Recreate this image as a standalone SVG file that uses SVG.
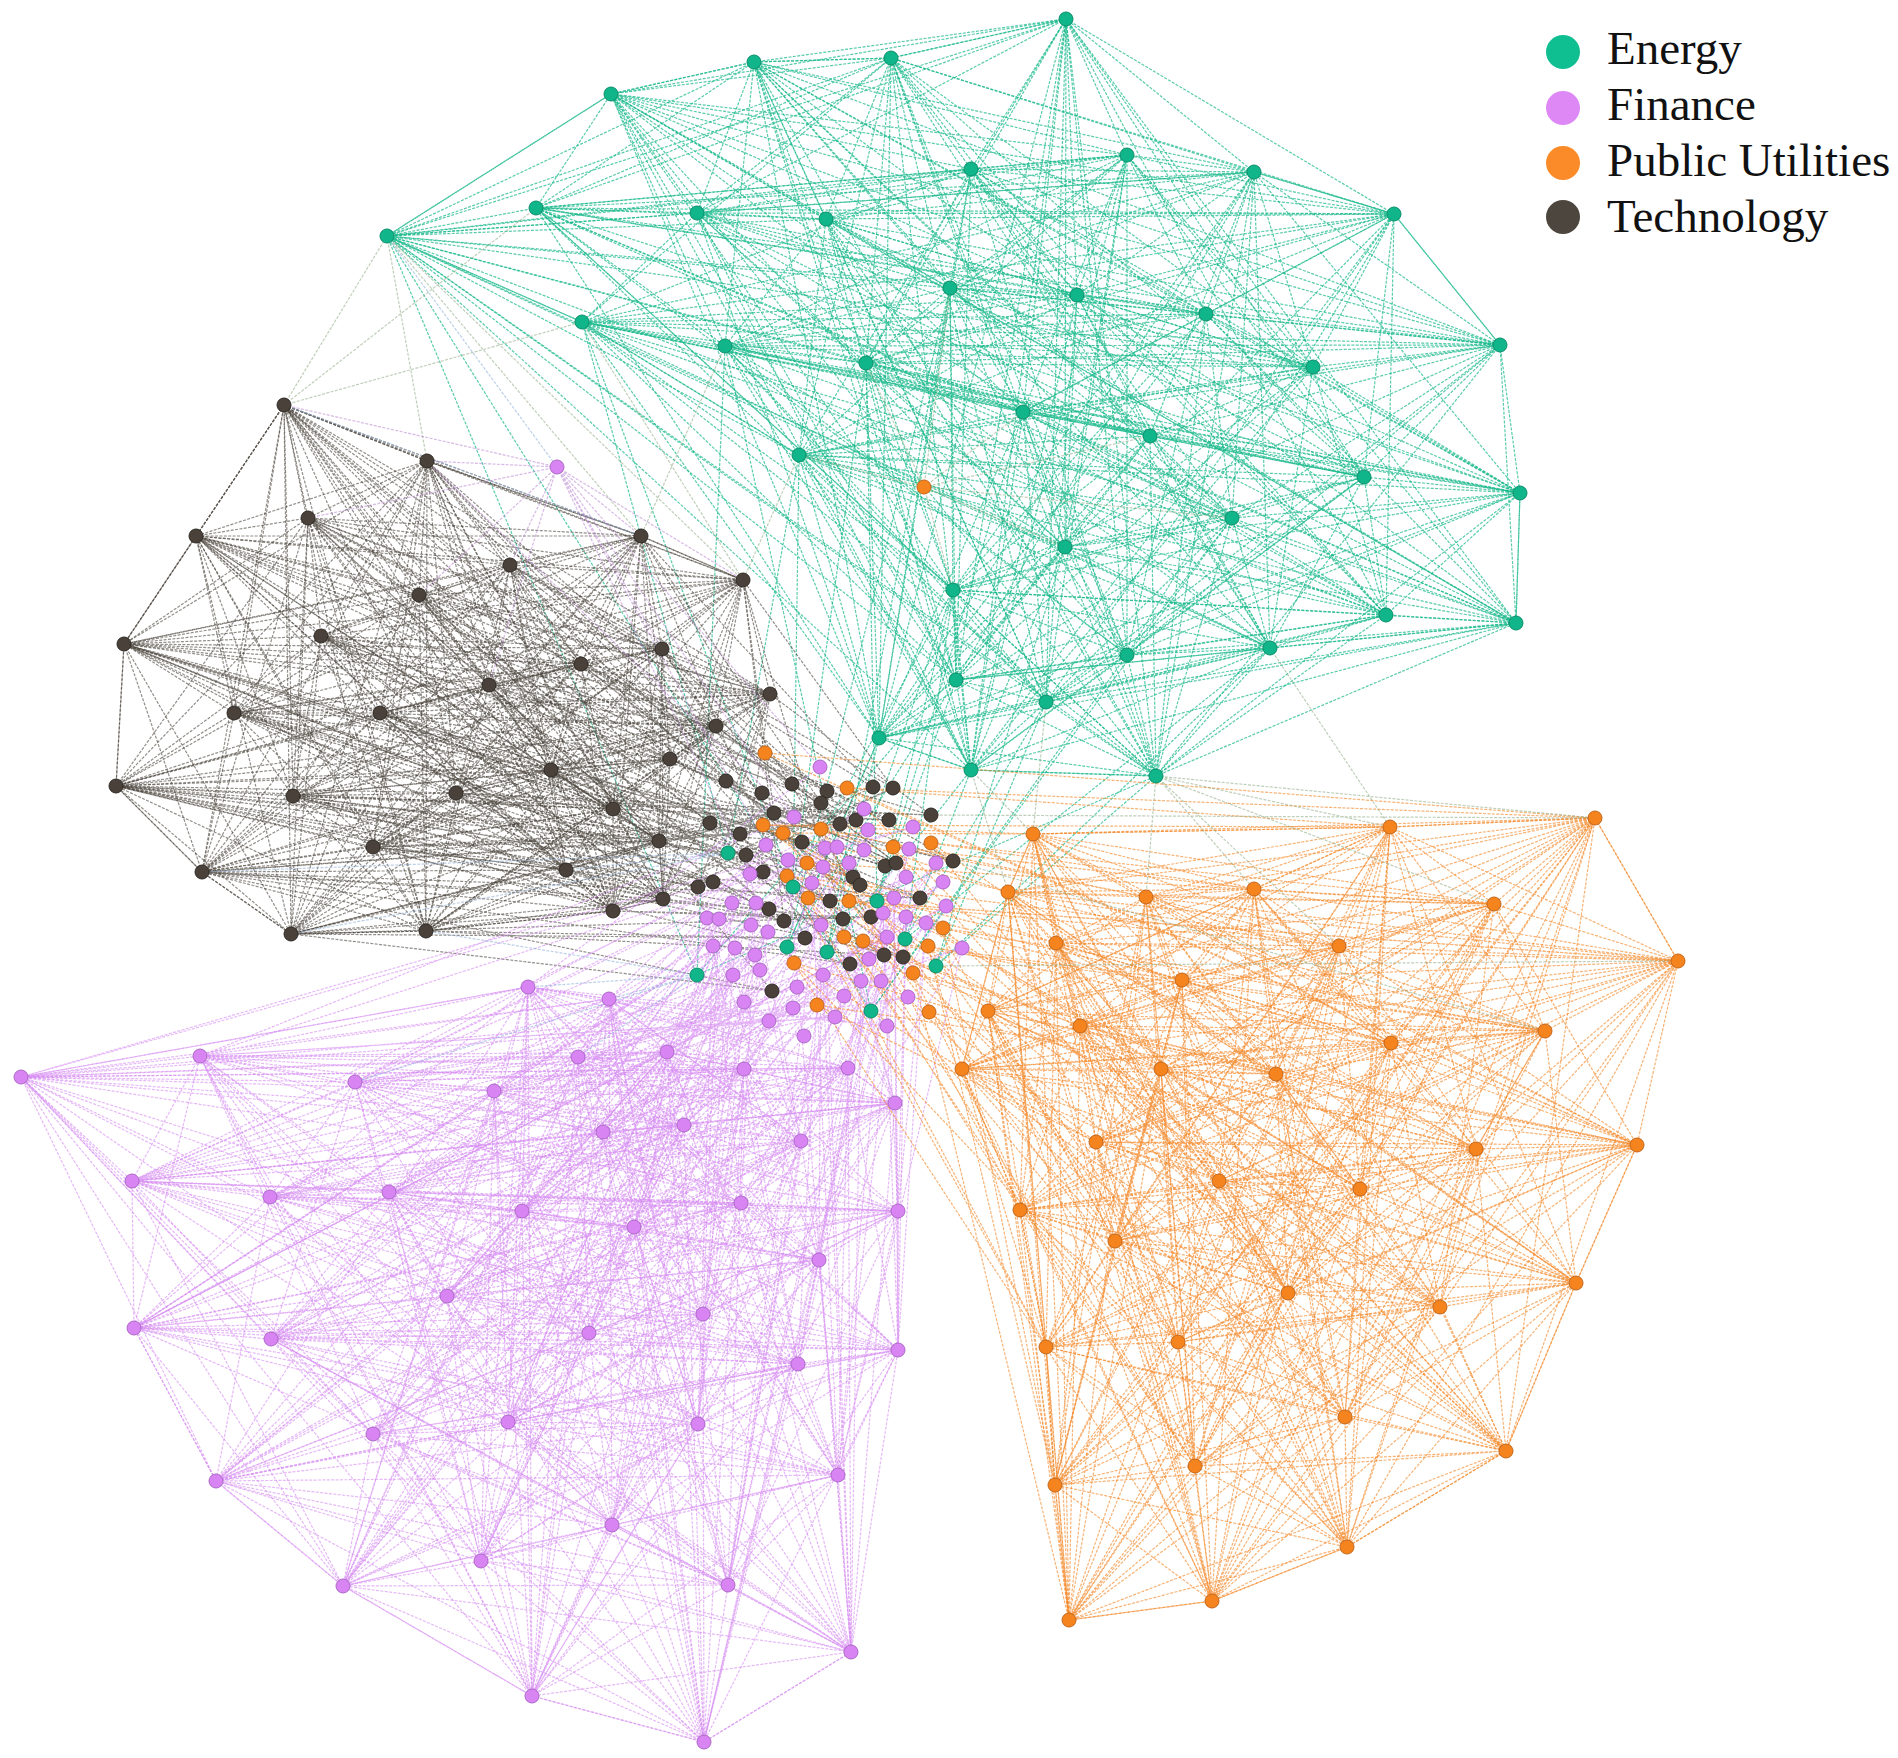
<svg xmlns="http://www.w3.org/2000/svg" width="1898" height="1758" viewBox="0 0 1898 1758">
<style>
.c{fill:none;stroke-width:1.2;stroke-dasharray:3 1.4}
.ce{stroke:#17b88a;stroke-opacity:.72}
.cf{stroke:#d68cf2;stroke-opacity:.62}
.cu{stroke:#f58a2c;stroke-opacity:.66}
.ct{stroke:#4a433b;stroke-opacity:.6}
.cx{stroke:#8aa880;stroke-opacity:.55}
.cb{stroke:#8fb0d8;stroke-opacity:.6}
.cp{stroke:#b77fd0;stroke-opacity:.55}
.ne circle{fill:#10b58a;stroke:#0b8f6c;stroke-width:1}
.nf circle{fill:#d884f3;stroke:#ad68c8;stroke-width:1}
.nu circle{fill:#f5841f;stroke:#c4661a;stroke-width:1}
.nt circle{fill:#4a423a;stroke:#2e2924;stroke-width:1}
.lg text{font-family:"Liberation Serif","Times New Roman",serif;font-size:47px;fill:#111}
</style>
<rect width="1898" height="1758" fill="#fff"/>
<g id="connectors">
<g id="edges-energy" class="c ce">
<path d="M1066,19 L754,62 891,58 611,94 387,236 536,208 697,213 826,219 971,169 1127,155 1254,172 1394,214 950,288 1077,295 1206,314 1313,367 1500,345 866,363 725,346 582,322 1023,412 1150,436 1364,477 1520,493 799,455 1232,518 1065,547 953,590 1386,615 1516,623 1270,648 1127,655 956,680 1046,702 879,738 971,770 1156,776Z"/>
<path d="M1066,19 L891,58 387,236 697,213 971,169 1254,172 950,288 1206,314 1500,345 725,346 1023,412 1364,477 799,455 1065,547 1386,615 1270,648 956,680 879,738 1156,776 754,62 611,94 536,208 826,219 1127,155 1394,214 1077,295 1313,367 866,363 582,322 1150,436 1520,493 1232,518 953,590 1516,623 1127,655 1046,702 971,770Z"/>
<path d="M1066,19 L611,94 697,213 1127,155 950,288 1313,367 725,346 1150,436 799,455 953,590 1270,648 1046,702 1156,776 891,58 536,208 971,169 1394,214 1206,314 866,363 1023,412 1520,493 1065,547 1516,623 956,680 971,770 754,62 387,236 826,219 1254,172 1077,295 1500,345 582,322 1364,477 1232,518 1386,615 1127,655 879,738Z"/>
<path d="M1066,19 L387,236 971,169 950,288 1500,345 1023,412 799,455 1386,615 956,680 1156,776 611,94 826,219 1394,214 1313,367 582,322 1520,493 953,590 1127,655 971,770 891,58 697,213 1254,172 1206,314 725,346 1364,477 1065,547 1270,648 879,738 754,62 536,208 1127,155 1077,295 866,363 1150,436 1232,518 1516,623 1046,702Z"/>
<path d="M1066,19 L536,208 1254,172 1313,367 1023,412 1232,518 1270,648 971,770 611,94 971,169 1077,295 725,346 1520,493 1386,615 1046,702 754,62 697,213 1394,214 1500,345 1150,436 1065,547 1127,655 1156,776 387,236 1127,155 1206,314 582,322 799,455 1516,623 879,738 891,58 826,219 950,288 866,363 1364,477 953,590 956,680Z"/>
<path d="M1066,19 L697,213 950,288 725,346 799,455 1270,648 1156,776 536,208 1394,214 866,363 1520,493 1516,623 971,770 387,236 1254,172 1500,345 1364,477 1386,615 879,738 611,94 1127,155 1313,367 1150,436 953,590 1046,702 891,58 971,169 1206,314 1023,412 1065,547 956,680 754,62 826,219 1077,295 582,322 1232,518 1127,655Z"/>
<path d="M1066,19 L971,169 1500,345 799,455 956,680 611,94 1394,214 582,322 953,590 971,770 697,213 1206,314 1364,477 1270,648 754,62 1127,155 866,363 1232,518 1046,702 387,236 950,288 1023,412 1386,615 1156,776 826,219 1313,367 1520,493 1127,655 891,58 1254,172 725,346 1065,547 879,738 536,208 1077,295 1150,436 1516,623Z"/>
<path d="M1066,19 L1127,155 725,346 953,590 1156,776 971,169 866,363 1065,547 971,770 826,219 1500,345 1232,518 879,738 697,213 1313,367 799,455 1046,702 536,208 1206,314 1520,493 956,680 387,236 1077,295 1364,477 1127,655 611,94 950,288 1150,436 1270,648 891,58 1394,214 1023,412 1516,623 754,62 1254,172 582,322 1386,615Z"/>
<path d="M1066,19 L1394,214 1364,477 1046,702 826,219 725,346 1516,623 611,94 1206,314 1232,518 1156,776 1254,172 1150,436 956,680 697,213 866,363 1386,615 891,58 1077,295 799,455 971,770 1127,155 1023,412 1127,655 536,208 1500,345 953,590 754,62 950,288 1520,493 879,738 971,169 582,322 1270,648 387,236 1313,367 1065,547Z"/>
<path d="M1066,19 L1077,295 1065,547 891,58 1313,367 1386,615 387,236 866,363 1270,648 697,213 582,322 956,680 971,169 1150,436 879,738 1254,172 1520,493 1156,776 950,288 1232,518 754,62 1206,314 953,590 611,94 1500,345 1516,623 536,208 725,346 1127,655 826,219 1023,412 1046,702 1127,155 1364,477 971,770 1394,214 799,455Z"/>
<path d="M1066,19 L1313,367 1270,648 971,169 1520,493 754,62 1500,345 1127,655 1127,155 799,455 891,58 866,363 956,680 1254,172 1232,518 611,94 725,346 1046,702 1394,214 1065,547 387,236 582,322 879,738 950,288 953,590 536,208 1023,412 971,770 1077,295 1386,615 697,213 1150,436 1156,776 1206,314 1516,623 826,219 1364,477Z"/>
<path d="M1066,19 L866,363 879,738 1206,314 1127,655 1394,214 1386,615 971,169 1232,518 536,208 1364,477 891,58 582,322 1156,776 1500,345 1046,702 1077,295 1270,648 1254,172 953,590 826,219 799,455 387,236 1150,436 754,62 725,346 971,770 1313,367 956,680 950,288 1516,623 1127,155 1065,547 697,213 1520,493 611,94 1023,412Z"/>
<path d="M387,236 L611,94 754,62 891,58 1066,19 1254,172 1394,214 1500,345 1520,493 1516,623 1156,776 971,770 879,738 799,455 582,322Z"/>
<path d="M728,853 L799,455 793,887 953,590 877,901 956,680 787,947 879,738 827,952 971,770 905,939 1046,702 936,966 1065,547 697,975 725,346 871,1011 1127,655"/>
<path d="M728,853 L582,322 793,887 866,363 877,901 1023,412 787,947 950,288 827,952 953,590 905,939 1270,648 936,966 1156,776 697,975 387,236 871,1011 1232,518"/>
</g>
<g id="edges-technology" class="c ct">
<path d="M284,405 L427,461 308,518 196,536 641,536 510,565 743,580 419,595 124,644 321,636 662,649 581,664 489,685 770,694 234,713 380,713 716,726 670,759 551,770 116,786 293,796 456,793 613,809 659,841 373,847 202,872 566,870 663,899 613,911 291,934 426,931Z"/>
<path d="M284,405 L308,518 641,536 743,580 124,644 662,649 489,685 234,713 716,726 551,770 293,796 613,809 373,847 566,870 613,911 426,931 427,461 196,536 510,565 419,595 321,636 581,664 770,694 380,713 670,759 116,786 456,793 659,841 202,872 663,899 291,934Z"/>
<path d="M284,405 L196,536 743,580 321,636 489,685 380,713 551,770 456,793 373,847 663,899 426,931 308,518 510,565 124,644 581,664 234,713 670,759 293,796 659,841 566,870 291,934 427,461 641,536 419,595 662,649 770,694 716,726 116,786 613,809 202,872 613,911Z"/>
<path d="M284,405 L641,536 124,644 489,685 716,726 293,796 373,847 613,911 427,461 510,565 321,636 770,694 670,759 456,793 202,872 291,934 308,518 743,580 662,649 234,713 551,770 613,809 566,870 426,931 196,536 419,595 581,664 380,713 116,786 659,841 663,899Z"/>
<path d="M284,405 L510,565 662,649 380,713 293,796 202,872 426,931 641,536 321,636 234,713 116,786 373,847 291,934 196,536 124,644 770,694 551,770 659,841 613,911 308,518 419,595 489,685 670,759 613,809 663,899 427,461 743,580 581,664 716,726 456,793 566,870Z"/>
<path d="M284,405 L743,580 489,685 551,770 373,847 426,931 510,565 581,664 670,759 659,841 291,934 641,536 662,649 716,726 613,809 613,911 196,536 321,636 380,713 456,793 663,899 308,518 124,644 234,713 293,796 566,870 427,461 419,595 770,694 116,786 202,872Z"/>
<path d="M284,405 L419,595 234,713 456,793 613,911 641,536 581,664 551,770 202,872 427,461 124,644 380,713 613,809 291,934 510,565 489,685 116,786 566,870 308,518 321,636 716,726 659,841 426,931 743,580 770,694 293,796 663,899 196,536 662,649 670,759 373,847Z"/>
<path d="M284,405 L124,644 716,726 373,847 427,461 321,636 670,759 202,872 308,518 662,649 551,770 566,870 196,536 581,664 116,786 663,899 641,536 489,685 293,796 613,911 510,565 770,694 456,793 291,934 743,580 234,713 613,809 426,931 419,595 380,713 659,841Z"/>
<path d="M284,405 L662,649 293,796 426,931 321,636 116,786 291,934 124,644 551,770 613,911 419,595 670,759 663,899 743,580 716,726 566,870 510,565 380,713 202,872 641,536 234,713 373,847 196,536 770,694 659,841 308,518 489,685 613,809 427,461 581,664 456,793Z"/>
<path d="M284,405 L581,664 613,809 308,518 770,694 373,847 641,536 380,713 566,870 743,580 670,759 613,911 124,644 116,786 426,931 662,649 456,793 427,461 489,685 659,841 196,536 234,713 202,872 510,565 716,726 663,899 419,595 551,770 291,934 321,636 293,796Z"/>
<path d="M284,405 L770,694 566,870 124,644 456,793 196,536 716,726 291,934 581,664 373,847 743,580 116,786 427,461 234,713 663,899 321,636 613,809 641,536 670,759 426,931 489,685 202,872 419,595 293,796 308,518 380,713 613,911 662,649 659,841 510,565 551,770Z"/>
<path d="M284,405 L234,713 613,911 581,664 202,872 124,644 613,809 510,565 116,786 308,518 716,726 426,931 770,694 663,899 662,649 373,847 419,595 456,793 641,536 551,770 427,461 380,713 291,934 489,685 566,870 321,636 659,841 743,580 293,796 196,536 670,759Z"/>
<path d="M284,405 L427,461 641,536 743,580 M284,405 L196,536 124,644 116,786 202,872 291,934 426,931 613,911 663,899"/>
<path d="M726,781 L284,405 762,793 427,461 792,784 308,518 827,791 196,536 821,803 641,536 873,787 510,565 893,788 743,580 774,813 419,595 710,823 124,644 740,834 321,636 840,824 662,649 856,820 581,664 889,820 489,685 931,815 770,694 746,855 234,713 802,842 380,713 885,866 716,726 896,863 670,759 953,861 551,770 763,872 116,786 698,887 293,796 713,882 456,793 853,877 613,809 860,885 659,841 830,901 373,847 920,898 202,872 769,909 566,870 784,921 663,899 843,919 613,911 871,917 291,934 805,938 426,931 884,955 124,644 903,957 116,786 850,964 202,872 772,991 291,934"/>
<path d="M772,991 L284,405 850,964 427,461 903,957 308,518 884,955 196,536 805,938 641,536 871,917 510,565 843,919 743,580 784,921 419,595 769,909 124,644 920,898 321,636 830,901 662,649 860,885 581,664 853,877 489,685 713,882 770,694 698,887 234,713 763,872 380,713 953,861 716,726 896,863 670,759 885,866 551,770 802,842 116,786 746,855 293,796 931,815 456,793 889,820 613,809 856,820 659,841 840,824 373,847 740,834 202,872 710,823 566,870 774,813 663,899 893,788 613,911 873,787 291,934 821,803 426,931"/>
</g>
<g id="edges-finance" class="c cf">
<path d="M528,987 L609,999 200,1056 21,1077 578,1057 667,1052 355,1082 494,1091 744,1069 848,1068 895,1103 603,1132 684,1125 801,1141 132,1181 270,1197 389,1192 522,1211 634,1227 741,1203 898,1211 819,1260 447,1296 703,1314 134,1328 271,1339 589,1333 798,1364 898,1350 508,1422 698,1424 373,1434 216,1481 838,1475 612,1525 481,1561 343,1586 728,1585 851,1652 532,1696 704,1742Z"/>
<path d="M528,987 L200,1056 578,1057 355,1082 744,1069 895,1103 684,1125 132,1181 389,1192 634,1227 898,1211 447,1296 134,1328 589,1333 898,1350 698,1424 216,1481 612,1525 343,1586 851,1652 704,1742 609,999 21,1077 667,1052 494,1091 848,1068 603,1132 801,1141 270,1197 522,1211 741,1203 819,1260 703,1314 271,1339 798,1364 508,1422 373,1434 838,1475 481,1561 728,1585 532,1696Z"/>
<path d="M528,987 L21,1077 355,1082 848,1068 684,1125 270,1197 634,1227 819,1260 134,1328 798,1364 698,1424 838,1475 343,1586 532,1696 609,999 578,1057 494,1091 895,1103 801,1141 389,1192 741,1203 447,1296 271,1339 898,1350 373,1434 612,1525 728,1585 704,1742 200,1056 667,1052 744,1069 603,1132 132,1181 522,1211 898,1211 703,1314 589,1333 508,1422 216,1481 481,1561 851,1652Z"/>
<path d="M528,987 L578,1057 744,1069 684,1125 389,1192 898,1211 134,1328 898,1350 216,1481 343,1586 704,1742 21,1077 494,1091 603,1132 270,1197 741,1203 703,1314 798,1364 373,1434 481,1561 532,1696 200,1056 355,1082 895,1103 132,1181 634,1227 447,1296 589,1333 698,1424 612,1525 851,1652 609,999 667,1052 848,1068 801,1141 522,1211 819,1260 271,1339 508,1422 838,1475 728,1585Z"/>
<path d="M528,987 L667,1052 895,1103 270,1197 898,1211 271,1339 698,1424 481,1561 704,1742 578,1057 848,1068 132,1181 741,1203 134,1328 508,1422 612,1525 532,1696 21,1077 744,1069 801,1141 634,1227 703,1314 898,1350 838,1475 851,1652 200,1056 494,1091 684,1125 522,1211 447,1296 798,1364 216,1481 728,1585 609,999 355,1082 603,1132 389,1192 819,1260 589,1333 373,1434 343,1586Z"/>
<path d="M528,987 L355,1082 684,1125 634,1227 134,1328 698,1424 343,1586 609,999 494,1091 801,1141 741,1203 271,1339 373,1434 728,1585 200,1056 744,1069 132,1181 898,1211 589,1333 216,1481 851,1652 21,1077 848,1068 270,1197 819,1260 798,1364 838,1475 532,1696 578,1057 895,1103 389,1192 447,1296 898,1350 612,1525 704,1742 667,1052 603,1132 522,1211 703,1314 508,1422 481,1561Z"/>
<path d="M528,987 L744,1069 389,1192 134,1328 216,1481 704,1742 494,1091 270,1197 703,1314 373,1434 532,1696 355,1082 132,1181 447,1296 698,1424 851,1652 667,1052 801,1141 819,1260 508,1422 728,1585 578,1057 684,1125 898,1211 898,1350 343,1586 21,1077 603,1132 741,1203 798,1364 481,1561 200,1056 895,1103 634,1227 589,1333 612,1525 609,999 848,1068 522,1211 271,1339 838,1475Z"/>
<path d="M528,987 L848,1068 634,1227 798,1364 343,1586 578,1057 801,1141 447,1296 373,1434 704,1742 744,1069 522,1211 589,1333 481,1561 21,1077 684,1125 819,1260 698,1424 532,1696 494,1091 389,1192 271,1339 612,1525 200,1056 603,1132 898,1211 508,1422 851,1652 355,1082 270,1197 134,1328 838,1475 609,999 895,1103 741,1203 898,1350 728,1585 667,1052 132,1181 703,1314 216,1481Z"/>
<path d="M528,987 L684,1125 134,1328 343,1586 494,1091 741,1203 373,1434 200,1056 132,1181 589,1333 851,1652 848,1068 819,1260 838,1475 578,1057 389,1192 898,1350 704,1742 603,1132 703,1314 481,1561 355,1082 634,1227 698,1424 609,999 801,1141 271,1339 728,1585 744,1069 898,1211 216,1481 21,1077 270,1197 798,1364 532,1696 895,1103 447,1296 612,1525 667,1052 522,1211 508,1422Z"/>
<path d="M528,987 L801,1141 589,1333 532,1696 603,1132 134,1328 728,1585 848,1068 447,1296 481,1561 494,1091 898,1211 838,1475 667,1052 634,1227 373,1434 21,1077 389,1192 508,1422 609,999 132,1181 798,1364 704,1742 684,1125 271,1339 851,1652 895,1103 703,1314 343,1586 744,1069 819,1260 612,1525 355,1082 741,1203 216,1481 578,1057 522,1211 698,1424 200,1056 270,1197 898,1350Z"/>
<path d="M528,987 L522,1211 612,1525 895,1103 798,1364 21,1077 898,1211 728,1585 801,1141 698,1424 355,1082 703,1314 704,1742 389,1192 838,1475 848,1068 589,1333 200,1056 741,1203 343,1586 684,1125 508,1422 667,1052 447,1296 532,1696 270,1197 216,1481 744,1069 271,1339 609,999 634,1227 481,1561 603,1132 898,1350 578,1057 819,1260 851,1652 132,1181 373,1434 494,1091 134,1328Z"/>
<path d="M528,987 L741,1203 851,1652 389,1192 481,1561 801,1141 216,1481 895,1103 508,1422 494,1091 589,1333 578,1057 703,1314 609,999 898,1211 532,1696 522,1211 343,1586 132,1181 838,1475 603,1132 698,1424 744,1069 798,1364 667,1052 134,1328 200,1056 819,1260 704,1742 634,1227 728,1585 270,1197 612,1525 684,1125 373,1434 848,1068 898,1350 355,1082 271,1339 21,1077 447,1296Z"/>
<path d="M609,999 L528,987 21,1077 132,1181 134,1328 216,1481 343,1586 532,1696 704,1742 851,1652 898,1350 898,1211 895,1103 848,1068"/>
<path d="M820,767 L528,987 864,809 609,999 794,817 200,1056 913,827 21,1077 868,830 578,1057 766,845 667,1052 825,848 355,1082 837,847 494,1091 864,850 744,1069 909,849 848,1068 788,860 895,1103 823,867 603,1132 849,863 684,1125 936,863 801,1141 750,874 132,1181 812,883 270,1197 906,877 389,1192 943,882 522,1211 732,903 634,1227 756,903 741,1203 894,898 898,1211 883,913 819,1260 707,918 447,1296 719,919 703,1314 946,906 134,1328 751,925 271,1339 768,932 589,1333 821,925 798,1364 906,917 898,1350 926,923 508,1422 713,946 698,1424 735,948 373,1434 755,955 216,1481 887,937 838,1475 962,948 612,1525 760,970 481,1561 733,975 343,1586 869,959 728,1585 823,975 851,1652 861,981 532,1696 881,981 704,1742"/>
<path d="M804,1036 L528,987 887,1026 609,999 769,1021 200,1056 835,1017 21,1077 793,1008 578,1057 744,1002 667,1052 908,997 355,1082 844,996 494,1091 797,987 744,1069 881,981 848,1068 861,981 895,1103 823,975 603,1132 869,959 684,1125 733,975 801,1141 760,970 132,1181 962,948 270,1197 887,937 389,1192 755,955 522,1211 735,948 634,1227 713,946 741,1203 926,923 898,1211 906,917 819,1260 821,925 447,1296 768,932 703,1314 751,925 134,1328 946,906 271,1339 719,919 589,1333 707,918 798,1364 883,913 898,1350 894,898 508,1422 756,903 698,1424 732,903 373,1434 943,882 216,1481 906,877 838,1475 812,883 612,1525 750,874 481,1561 936,863 343,1586 849,863 728,1585 823,867 851,1652 788,860 532,1696 909,849 704,1742"/>
</g>
<g id="edges-utilities" class="c cu">
<path d="M1595,818 L1390,827 1033,834 1008,892 1146,897 1254,889 1494,904 1056,943 1339,946 1678,961 1182,980 1080,1026 1545,1031 1391,1043 962,1069 1161,1069 1276,1074 1096,1142 1476,1149 1637,1145 1219,1181 1360,1189 1020,1210 1115,1241 1288,1293 1576,1283 1440,1307 1046,1347 1178,1342 1345,1417 1195,1466 1506,1451 1055,1485 1347,1547 1212,1601 1069,1620 988,1011Z"/>
<path d="M1595,818 L1033,834 1146,897 1494,904 1339,946 1182,980 1545,1031 962,1069 1276,1074 1476,1149 1219,1181 1020,1210 1288,1293 1440,1307 1178,1342 1195,1466 1055,1485 1212,1601 988,1011 1390,827 1008,892 1254,889 1056,943 1678,961 1080,1026 1391,1043 1161,1069 1096,1142 1637,1145 1360,1189 1115,1241 1576,1283 1046,1347 1345,1417 1506,1451 1347,1547 1069,1620Z"/>
<path d="M1595,818 L1008,892 1494,904 1678,961 1545,1031 1161,1069 1476,1149 1360,1189 1288,1293 1046,1347 1195,1466 1347,1547 988,1011 1033,834 1254,889 1339,946 1080,1026 962,1069 1096,1142 1219,1181 1115,1241 1440,1307 1345,1417 1055,1485 1069,1620 1390,827 1146,897 1056,943 1182,980 1391,1043 1276,1074 1637,1145 1020,1210 1576,1283 1178,1342 1506,1451 1212,1601Z"/>
<path d="M1595,818 L1146,897 1339,946 1545,1031 1276,1074 1219,1181 1288,1293 1178,1342 1055,1485 988,1011 1008,892 1056,943 1080,1026 1161,1069 1637,1145 1115,1241 1046,1347 1506,1451 1069,1620 1033,834 1494,904 1182,980 962,1069 1476,1149 1020,1210 1440,1307 1195,1466 1212,1601 1390,827 1254,889 1678,961 1391,1043 1096,1142 1360,1189 1576,1283 1345,1417 1347,1547Z"/>
<path d="M1595,818 L1254,889 1182,980 1161,1069 1219,1181 1576,1283 1195,1466 1069,1620 1008,892 1339,946 1391,1043 1476,1149 1115,1241 1178,1342 1347,1547 1390,827 1494,904 1080,1026 1276,1074 1360,1189 1440,1307 1506,1451 988,1011 1146,897 1678,961 962,1069 1637,1145 1288,1293 1345,1417 1212,1601 1033,834 1056,943 1545,1031 1096,1142 1020,1210 1046,1347 1055,1485Z"/>
<path d="M1595,818 L1494,904 1545,1031 1476,1149 1288,1293 1195,1466 988,1011 1254,889 1080,1026 1096,1142 1115,1241 1345,1417 1069,1620 1146,897 1182,980 1276,1074 1020,1210 1178,1342 1212,1601 1008,892 1678,961 1161,1069 1360,1189 1046,1347 1347,1547 1033,834 1339,946 962,1069 1219,1181 1440,1307 1055,1485 1390,827 1056,943 1391,1043 1637,1145 1576,1283 1506,1451Z"/>
<path d="M1595,818 L1339,946 1276,1074 1288,1293 1055,1485 1008,892 1080,1026 1637,1145 1046,1347 1069,1620 1494,904 962,1069 1020,1210 1195,1466 1390,827 1678,961 1096,1142 1576,1283 1347,1547 1146,897 1545,1031 1219,1181 1178,1342 988,1011 1056,943 1161,1069 1115,1241 1506,1451 1033,834 1182,980 1476,1149 1440,1307 1212,1601 1254,889 1391,1043 1360,1189 1345,1417Z"/>
<path d="M1595,818 L1678,961 1476,1149 1046,1347 988,1011 1339,946 1096,1142 1440,1307 1069,1620 1056,943 1276,1074 1576,1283 1212,1601 1494,904 1161,1069 1288,1293 1347,1547 1254,889 962,1069 1115,1241 1055,1485 1146,897 1391,1043 1020,1210 1506,1451 1008,892 1545,1031 1360,1189 1195,1466 1033,834 1080,1026 1219,1181 1345,1417 1390,827 1182,980 1637,1145 1178,1342Z"/>
<path d="M1595,818 L1080,1026 1020,1210 1347,1547 1056,943 1476,1149 1345,1417 1008,892 962,1069 1576,1283 988,1011 1182,980 1360,1189 1055,1485 1494,904 1096,1142 1178,1342 1033,834 1391,1043 1288,1293 1069,1620 1678,961 1219,1181 1506,1451 1254,889 1276,1074 1046,1347 1390,827 1545,1031 1115,1241 1212,1601 1339,946 1637,1145 1195,1466 1146,897 1161,1069 1440,1307Z"/>
<path d="M1595,818 L1391,1043 1440,1307 1033,834 1161,1069 1178,1342 1146,897 1096,1142 1195,1466 1494,904 1637,1145 1055,1485 1339,946 1360,1189 1212,1601 1182,980 1115,1241 988,1011 1545,1031 1576,1283 1390,827 962,1069 1046,1347 1008,892 1276,1074 1345,1417 1254,889 1476,1149 1506,1451 1056,943 1219,1181 1347,1547 1678,961 1020,1210 1069,1620 1080,1026 1288,1293Z"/>
<path d="M1595,818 L1161,1069 1195,1466 1339,946 1115,1241 1390,827 1276,1074 1506,1451 1678,961 1288,1293 1033,834 1096,1142 1055,1485 1182,980 1576,1283 1008,892 1476,1149 1347,1547 1080,1026 1440,1307 1146,897 1637,1145 1212,1601 1545,1031 1046,1347 1254,889 1219,1181 1069,1620 1391,1043 1178,1342 1494,904 1360,1189 988,1011 962,1069 1345,1417 1056,943 1020,1210Z"/>
<path d="M1595,818 L1096,1142 1212,1601 962,1069 1506,1451 1080,1026 1178,1342 1339,946 1576,1283 1254,889 1020,1210 1033,834 1637,1145 988,1011 1276,1074 1347,1547 1391,1043 1195,1466 1182,980 1046,1347 1056,943 1288,1293 1146,897 1360,1189 1390,827 1476,1149 1069,1620 1161,1069 1055,1485 1545,1031 1345,1417 1678,961 1440,1307 1494,904 1115,1241 1008,892 1219,1181Z"/>
<path d="M1033,834 L1390,827 1595,818 1678,961 1637,1145 1576,1283 1506,1451 1347,1547 1212,1601 1069,1620 1055,1485 1046,1347 1020,1210 962,1069 1008,892Z"/>
<path d="M765,753 L1595,818 847,788 1390,827 763,825 1033,834 783,833 1008,892 821,829 1146,897 893,847 1254,889 931,843 1494,904 807,863 1056,943 787,876 1339,946 808,898 1678,961 849,901 1182,980 844,937 1080,1026 863,941 1545,1031 943,928 1391,1043 928,946 962,1069 794,963 1161,1069 913,973 1276,1074 817,1005 1096,1142 929,1012 1476,1149"/>
<path d="M765,753 L1637,1145 847,788 1219,1181 763,825 1360,1189 783,833 1020,1210 821,829 1115,1241 893,847 1288,1293 931,843 1576,1283 807,863 1440,1307 787,876 1046,1347 808,898 1178,1342 849,901 1345,1417 844,937 1195,1466 863,941 1506,1451 943,928 1055,1485 928,946 1347,1547 794,963 1212,1601 913,973 1069,1620"/>
</g>
<g id="edges-cross">
<path class="c cx" d="M284,405 L387,236 M284,405 L582,322 M387,236 L427,461 M387,236 L641,536 M387,236 L743,580 M582,322 L743,580 M799,455 L743,580 M725,346 L641,536 M536,208 L284,405 M1156,776 L1390,827 M1156,776 L1595,818 M1156,776 L1146,897 M1156,776 L1254,889 M971,770 L1033,834 M971,770 L1008,892 M1046,702 L1033,834 M1156,776 L1339,946 M1156,776 L1494,904 M1270,648 L1390,827 M924,487 L866,363 M924,487 L799,455 M924,487 L1023,412 M924,487 L950,288 M924,487 L953,590 M924,487 L1065,547 M924,487 L1232,518 M924,487 L1150,436 M931,815 L1595,818 M936,966 L1678,961 M953,861 L1545,1031"/>
<path class="c cb" d="M697,975 L528,987 M697,975 L609,999 M697,975 L355,1082 M697,975 L578,1057 M728,853 L202,872 M728,853 L291,934 M728,853 L566,870 M697,975 L426,931 M387,236 L557,467 M284,405 L641,536"/>
<path class="c cp" d="M557,467 L284,405 M557,467 L427,461 M557,467 L308,518 M557,467 L510,565 M557,467 L419,595 M557,467 L489,685 M557,467 L641,536 M557,467 L743,580 M557,467 L820,767 M557,467 L766,845 M557,467 L750,874 M557,467 L794,817 M557,467 L662,649 M427,461 L794,817"/>
</g>
</g>
<g id="nodes">
<g id="e0" class="ne"><circle cx="1066" cy="19" r="7"/></g>
<g id="e1" class="ne"><circle cx="754" cy="62" r="7"/></g>
<g id="e2" class="ne"><circle cx="891" cy="58" r="7"/></g>
<g id="e3" class="ne"><circle cx="611" cy="94" r="7"/></g>
<g id="e4" class="ne"><circle cx="387" cy="236" r="7"/></g>
<g id="e5" class="ne"><circle cx="536" cy="208" r="7"/></g>
<g id="e6" class="ne"><circle cx="697" cy="213" r="7"/></g>
<g id="e7" class="ne"><circle cx="826" cy="219" r="7"/></g>
<g id="e8" class="ne"><circle cx="971" cy="169" r="7"/></g>
<g id="e9" class="ne"><circle cx="1127" cy="155" r="7"/></g>
<g id="e10" class="ne"><circle cx="1254" cy="172" r="7"/></g>
<g id="e11" class="ne"><circle cx="1394" cy="214" r="7"/></g>
<g id="e12" class="ne"><circle cx="950" cy="288" r="7"/></g>
<g id="e13" class="ne"><circle cx="1077" cy="295" r="7"/></g>
<g id="e14" class="ne"><circle cx="1206" cy="314" r="7"/></g>
<g id="e15" class="ne"><circle cx="1313" cy="367" r="7"/></g>
<g id="e16" class="ne"><circle cx="1500" cy="345" r="7"/></g>
<g id="e17" class="ne"><circle cx="866" cy="363" r="7"/></g>
<g id="e18" class="ne"><circle cx="725" cy="346" r="7"/></g>
<g id="e19" class="ne"><circle cx="582" cy="322" r="7"/></g>
<g id="e20" class="ne"><circle cx="1023" cy="412" r="7"/></g>
<g id="e21" class="ne"><circle cx="1150" cy="436" r="7"/></g>
<g id="e22" class="ne"><circle cx="1364" cy="477" r="7"/></g>
<g id="e23" class="ne"><circle cx="1520" cy="493" r="7"/></g>
<g id="e24" class="ne"><circle cx="799" cy="455" r="7"/></g>
<g id="e25" class="ne"><circle cx="1232" cy="518" r="7"/></g>
<g id="e26" class="ne"><circle cx="1065" cy="547" r="7"/></g>
<g id="e27" class="ne"><circle cx="953" cy="590" r="7"/></g>
<g id="e28" class="ne"><circle cx="1386" cy="615" r="7"/></g>
<g id="e29" class="ne"><circle cx="1516" cy="623" r="7"/></g>
<g id="e30" class="ne"><circle cx="1270" cy="648" r="7"/></g>
<g id="e31" class="ne"><circle cx="1127" cy="655" r="7"/></g>
<g id="e32" class="ne"><circle cx="956" cy="680" r="7"/></g>
<g id="e33" class="ne"><circle cx="1046" cy="702" r="7"/></g>
<g id="e34" class="ne"><circle cx="879" cy="738" r="7"/></g>
<g id="e35" class="ne"><circle cx="971" cy="770" r="7"/></g>
<g id="e36" class="ne"><circle cx="1156" cy="776" r="7"/></g>
<g id="uo" class="nu"><circle cx="924" cy="487" r="7"/></g>
<g id="t0" class="nt"><circle cx="284" cy="405" r="7"/></g>
<g id="t1" class="nt"><circle cx="427" cy="461" r="7"/></g>
<g id="t2" class="nt"><circle cx="308" cy="518" r="7"/></g>
<g id="t3" class="nt"><circle cx="196" cy="536" r="7"/></g>
<g id="t4" class="nt"><circle cx="641" cy="536" r="7"/></g>
<g id="t5" class="nt"><circle cx="510" cy="565" r="7"/></g>
<g id="t6" class="nt"><circle cx="743" cy="580" r="7"/></g>
<g id="t7" class="nt"><circle cx="419" cy="595" r="7"/></g>
<g id="t8" class="nt"><circle cx="124" cy="644" r="7"/></g>
<g id="t9" class="nt"><circle cx="321" cy="636" r="7"/></g>
<g id="t10" class="nt"><circle cx="662" cy="649" r="7"/></g>
<g id="t11" class="nt"><circle cx="581" cy="664" r="7"/></g>
<g id="t12" class="nt"><circle cx="489" cy="685" r="7"/></g>
<g id="t13" class="nt"><circle cx="770" cy="694" r="7"/></g>
<g id="t14" class="nt"><circle cx="234" cy="713" r="7"/></g>
<g id="t15" class="nt"><circle cx="380" cy="713" r="7"/></g>
<g id="t16" class="nt"><circle cx="716" cy="726" r="7"/></g>
<g id="t17" class="nt"><circle cx="670" cy="759" r="7"/></g>
<g id="t18" class="nt"><circle cx="551" cy="770" r="7"/></g>
<g id="t19" class="nt"><circle cx="116" cy="786" r="7"/></g>
<g id="t20" class="nt"><circle cx="293" cy="796" r="7"/></g>
<g id="t21" class="nt"><circle cx="456" cy="793" r="7"/></g>
<g id="t22" class="nt"><circle cx="613" cy="809" r="7"/></g>
<g id="t23" class="nt"><circle cx="659" cy="841" r="7"/></g>
<g id="t24" class="nt"><circle cx="373" cy="847" r="7"/></g>
<g id="t25" class="nt"><circle cx="202" cy="872" r="7"/></g>
<g id="t26" class="nt"><circle cx="566" cy="870" r="7"/></g>
<g id="t27" class="nt"><circle cx="663" cy="899" r="7"/></g>
<g id="t28" class="nt"><circle cx="613" cy="911" r="7"/></g>
<g id="t29" class="nt"><circle cx="291" cy="934" r="7"/></g>
<g id="t30" class="nt"><circle cx="426" cy="931" r="7"/></g>
<g id="fx" class="nf"><circle cx="557" cy="467" r="7"/></g>
<g id="f0" class="nf"><circle cx="528" cy="987" r="7"/></g>
<g id="f1" class="nf"><circle cx="609" cy="999" r="7"/></g>
<g id="f2" class="nf"><circle cx="200" cy="1056" r="7"/></g>
<g id="f3" class="nf"><circle cx="21" cy="1077" r="7"/></g>
<g id="f4" class="nf"><circle cx="578" cy="1057" r="7"/></g>
<g id="f5" class="nf"><circle cx="667" cy="1052" r="7"/></g>
<g id="f6" class="nf"><circle cx="355" cy="1082" r="7"/></g>
<g id="f7" class="nf"><circle cx="494" cy="1091" r="7"/></g>
<g id="f8" class="nf"><circle cx="744" cy="1069" r="7"/></g>
<g id="f9" class="nf"><circle cx="848" cy="1068" r="7"/></g>
<g id="f10" class="nf"><circle cx="895" cy="1103" r="7"/></g>
<g id="f11" class="nf"><circle cx="603" cy="1132" r="7"/></g>
<g id="f12" class="nf"><circle cx="684" cy="1125" r="7"/></g>
<g id="f13" class="nf"><circle cx="801" cy="1141" r="7"/></g>
<g id="f14" class="nf"><circle cx="132" cy="1181" r="7"/></g>
<g id="f15" class="nf"><circle cx="270" cy="1197" r="7"/></g>
<g id="f16" class="nf"><circle cx="389" cy="1192" r="7"/></g>
<g id="f17" class="nf"><circle cx="522" cy="1211" r="7"/></g>
<g id="f18" class="nf"><circle cx="634" cy="1227" r="7"/></g>
<g id="f19" class="nf"><circle cx="741" cy="1203" r="7"/></g>
<g id="f20" class="nf"><circle cx="898" cy="1211" r="7"/></g>
<g id="f21" class="nf"><circle cx="819" cy="1260" r="7"/></g>
<g id="f22" class="nf"><circle cx="447" cy="1296" r="7"/></g>
<g id="f23" class="nf"><circle cx="703" cy="1314" r="7"/></g>
<g id="f24" class="nf"><circle cx="134" cy="1328" r="7"/></g>
<g id="f25" class="nf"><circle cx="271" cy="1339" r="7"/></g>
<g id="f26" class="nf"><circle cx="589" cy="1333" r="7"/></g>
<g id="f27" class="nf"><circle cx="798" cy="1364" r="7"/></g>
<g id="f28" class="nf"><circle cx="898" cy="1350" r="7"/></g>
<g id="f29" class="nf"><circle cx="508" cy="1422" r="7"/></g>
<g id="f30" class="nf"><circle cx="698" cy="1424" r="7"/></g>
<g id="f31" class="nf"><circle cx="373" cy="1434" r="7"/></g>
<g id="f32" class="nf"><circle cx="216" cy="1481" r="7"/></g>
<g id="f33" class="nf"><circle cx="838" cy="1475" r="7"/></g>
<g id="f34" class="nf"><circle cx="612" cy="1525" r="7"/></g>
<g id="f35" class="nf"><circle cx="481" cy="1561" r="7"/></g>
<g id="f36" class="nf"><circle cx="343" cy="1586" r="7"/></g>
<g id="f37" class="nf"><circle cx="728" cy="1585" r="7"/></g>
<g id="f38" class="nf"><circle cx="851" cy="1652" r="7"/></g>
<g id="f39" class="nf"><circle cx="532" cy="1696" r="7"/></g>
<g id="f40" class="nf"><circle cx="704" cy="1742" r="7"/></g>
<g id="u0" class="nu"><circle cx="1595" cy="818" r="7"/></g>
<g id="u1" class="nu"><circle cx="1390" cy="827" r="7"/></g>
<g id="u2" class="nu"><circle cx="1033" cy="834" r="7"/></g>
<g id="u3" class="nu"><circle cx="1008" cy="892" r="7"/></g>
<g id="u4" class="nu"><circle cx="1146" cy="897" r="7"/></g>
<g id="u5" class="nu"><circle cx="1254" cy="889" r="7"/></g>
<g id="u6" class="nu"><circle cx="1494" cy="904" r="7"/></g>
<g id="u7" class="nu"><circle cx="1056" cy="943" r="7"/></g>
<g id="u8" class="nu"><circle cx="1339" cy="946" r="7"/></g>
<g id="u9" class="nu"><circle cx="1678" cy="961" r="7"/></g>
<g id="u10" class="nu"><circle cx="1182" cy="980" r="7"/></g>
<g id="u11" class="nu"><circle cx="1080" cy="1026" r="7"/></g>
<g id="u12" class="nu"><circle cx="1545" cy="1031" r="7"/></g>
<g id="u13" class="nu"><circle cx="1391" cy="1043" r="7"/></g>
<g id="u14" class="nu"><circle cx="962" cy="1069" r="7"/></g>
<g id="u15" class="nu"><circle cx="1161" cy="1069" r="7"/></g>
<g id="u16" class="nu"><circle cx="1276" cy="1074" r="7"/></g>
<g id="u17" class="nu"><circle cx="1096" cy="1142" r="7"/></g>
<g id="u18" class="nu"><circle cx="1476" cy="1149" r="7"/></g>
<g id="u19" class="nu"><circle cx="1637" cy="1145" r="7"/></g>
<g id="u20" class="nu"><circle cx="1219" cy="1181" r="7"/></g>
<g id="u21" class="nu"><circle cx="1360" cy="1189" r="7"/></g>
<g id="u22" class="nu"><circle cx="1020" cy="1210" r="7"/></g>
<g id="u23" class="nu"><circle cx="1115" cy="1241" r="7"/></g>
<g id="u24" class="nu"><circle cx="1288" cy="1293" r="7"/></g>
<g id="u25" class="nu"><circle cx="1576" cy="1283" r="7"/></g>
<g id="u26" class="nu"><circle cx="1440" cy="1307" r="7"/></g>
<g id="u27" class="nu"><circle cx="1046" cy="1347" r="7"/></g>
<g id="u28" class="nu"><circle cx="1178" cy="1342" r="7"/></g>
<g id="u29" class="nu"><circle cx="1345" cy="1417" r="7"/></g>
<g id="u30" class="nu"><circle cx="1195" cy="1466" r="7"/></g>
<g id="u31" class="nu"><circle cx="1506" cy="1451" r="7"/></g>
<g id="u32" class="nu"><circle cx="1055" cy="1485" r="7"/></g>
<g id="u33" class="nu"><circle cx="1347" cy="1547" r="7"/></g>
<g id="u34" class="nu"><circle cx="1212" cy="1601" r="7"/></g>
<g id="u35" class="nu"><circle cx="1069" cy="1620" r="7"/></g>
<g id="u36" class="nu"><circle cx="988" cy="1011" r="7"/></g>
<g id="co0" class="nu"><circle cx="765" cy="753" r="7"/></g>
<g id="co1" class="nu"><circle cx="847" cy="788" r="7"/></g>
<g id="co2" class="nu"><circle cx="763" cy="825" r="7"/></g>
<g id="co3" class="nu"><circle cx="783" cy="833" r="7"/></g>
<g id="co4" class="nu"><circle cx="821" cy="829" r="7"/></g>
<g id="co5" class="nu"><circle cx="893" cy="847" r="7"/></g>
<g id="co6" class="nu"><circle cx="931" cy="843" r="7"/></g>
<g id="co7" class="nu"><circle cx="807" cy="863" r="7"/></g>
<g id="co8" class="nu"><circle cx="787" cy="876" r="7"/></g>
<g id="co9" class="nu"><circle cx="808" cy="898" r="7"/></g>
<g id="co10" class="nu"><circle cx="849" cy="901" r="7"/></g>
<g id="co11" class="nu"><circle cx="844" cy="937" r="7"/></g>
<g id="co12" class="nu"><circle cx="863" cy="941" r="7"/></g>
<g id="co13" class="nu"><circle cx="943" cy="928" r="7"/></g>
<g id="co14" class="nu"><circle cx="928" cy="946" r="7"/></g>
<g id="co15" class="nu"><circle cx="794" cy="963" r="7"/></g>
<g id="co16" class="nu"><circle cx="913" cy="973" r="7"/></g>
<g id="co17" class="nu"><circle cx="817" cy="1005" r="7"/></g>
<g id="co18" class="nu"><circle cx="929" cy="1012" r="7"/></g>
<g id="cd0" class="nt"><circle cx="726" cy="781" r="7"/></g>
<g id="cd1" class="nt"><circle cx="762" cy="793" r="7"/></g>
<g id="cd2" class="nt"><circle cx="792" cy="784" r="7"/></g>
<g id="cd3" class="nt"><circle cx="827" cy="791" r="7"/></g>
<g id="cd4" class="nt"><circle cx="821" cy="803" r="7"/></g>
<g id="cd5" class="nt"><circle cx="873" cy="787" r="7"/></g>
<g id="cd6" class="nt"><circle cx="893" cy="788" r="7"/></g>
<g id="cd7" class="nt"><circle cx="774" cy="813" r="7"/></g>
<g id="cd8" class="nt"><circle cx="710" cy="823" r="7"/></g>
<g id="cd9" class="nt"><circle cx="740" cy="834" r="7"/></g>
<g id="cd10" class="nt"><circle cx="840" cy="824" r="7"/></g>
<g id="cd11" class="nt"><circle cx="856" cy="820" r="7"/></g>
<g id="cd12" class="nt"><circle cx="889" cy="820" r="7"/></g>
<g id="cd13" class="nt"><circle cx="931" cy="815" r="7"/></g>
<g id="cd14" class="nt"><circle cx="746" cy="855" r="7"/></g>
<g id="cd15" class="nt"><circle cx="802" cy="842" r="7"/></g>
<g id="cd16" class="nt"><circle cx="885" cy="866" r="7"/></g>
<g id="cd17" class="nt"><circle cx="896" cy="863" r="7"/></g>
<g id="cd18" class="nt"><circle cx="953" cy="861" r="7"/></g>
<g id="cd19" class="nt"><circle cx="763" cy="872" r="7"/></g>
<g id="cd20" class="nt"><circle cx="698" cy="887" r="7"/></g>
<g id="cd21" class="nt"><circle cx="713" cy="882" r="7"/></g>
<g id="cd22" class="nt"><circle cx="853" cy="877" r="7"/></g>
<g id="cd23" class="nt"><circle cx="860" cy="885" r="7"/></g>
<g id="cd24" class="nt"><circle cx="830" cy="901" r="7"/></g>
<g id="cd25" class="nt"><circle cx="920" cy="898" r="7"/></g>
<g id="cd26" class="nt"><circle cx="769" cy="909" r="7"/></g>
<g id="cd27" class="nt"><circle cx="784" cy="921" r="7"/></g>
<g id="cd28" class="nt"><circle cx="843" cy="919" r="7"/></g>
<g id="cd29" class="nt"><circle cx="871" cy="917" r="7"/></g>
<g id="cd30" class="nt"><circle cx="805" cy="938" r="7"/></g>
<g id="cd31" class="nt"><circle cx="884" cy="955" r="7"/></g>
<g id="cd32" class="nt"><circle cx="903" cy="957" r="7"/></g>
<g id="cd33" class="nt"><circle cx="850" cy="964" r="7"/></g>
<g id="cd34" class="nt"><circle cx="772" cy="991" r="7"/></g>
<g id="cp0" class="nf"><circle cx="820" cy="767" r="7"/></g>
<g id="cp1" class="nf"><circle cx="864" cy="809" r="7"/></g>
<g id="cp2" class="nf"><circle cx="794" cy="817" r="7"/></g>
<g id="cp3" class="nf"><circle cx="913" cy="827" r="7"/></g>
<g id="cp4" class="nf"><circle cx="868" cy="830" r="7"/></g>
<g id="cp5" class="nf"><circle cx="766" cy="845" r="7"/></g>
<g id="cp6" class="nf"><circle cx="825" cy="848" r="7"/></g>
<g id="cp7" class="nf"><circle cx="837" cy="847" r="7"/></g>
<g id="cp8" class="nf"><circle cx="864" cy="850" r="7"/></g>
<g id="cp9" class="nf"><circle cx="909" cy="849" r="7"/></g>
<g id="cp10" class="nf"><circle cx="788" cy="860" r="7"/></g>
<g id="cp11" class="nf"><circle cx="823" cy="867" r="7"/></g>
<g id="cp12" class="nf"><circle cx="849" cy="863" r="7"/></g>
<g id="cp13" class="nf"><circle cx="936" cy="863" r="7"/></g>
<g id="cp14" class="nf"><circle cx="750" cy="874" r="7"/></g>
<g id="cp15" class="nf"><circle cx="812" cy="883" r="7"/></g>
<g id="cp16" class="nf"><circle cx="906" cy="877" r="7"/></g>
<g id="cp17" class="nf"><circle cx="943" cy="882" r="7"/></g>
<g id="cp18" class="nf"><circle cx="732" cy="903" r="7"/></g>
<g id="cp19" class="nf"><circle cx="756" cy="903" r="7"/></g>
<g id="cp20" class="nf"><circle cx="894" cy="898" r="7"/></g>
<g id="cp21" class="nf"><circle cx="883" cy="913" r="7"/></g>
<g id="cp22" class="nf"><circle cx="707" cy="918" r="7"/></g>
<g id="cp23" class="nf"><circle cx="719" cy="919" r="7"/></g>
<g id="cp24" class="nf"><circle cx="946" cy="906" r="7"/></g>
<g id="cp25" class="nf"><circle cx="751" cy="925" r="7"/></g>
<g id="cp26" class="nf"><circle cx="768" cy="932" r="7"/></g>
<g id="cp27" class="nf"><circle cx="821" cy="925" r="7"/></g>
<g id="cp28" class="nf"><circle cx="906" cy="917" r="7"/></g>
<g id="cp29" class="nf"><circle cx="926" cy="923" r="7"/></g>
<g id="cp30" class="nf"><circle cx="713" cy="946" r="7"/></g>
<g id="cp31" class="nf"><circle cx="735" cy="948" r="7"/></g>
<g id="cp32" class="nf"><circle cx="755" cy="955" r="7"/></g>
<g id="cp33" class="nf"><circle cx="887" cy="937" r="7"/></g>
<g id="cp34" class="nf"><circle cx="962" cy="948" r="7"/></g>
<g id="cp35" class="nf"><circle cx="760" cy="970" r="7"/></g>
<g id="cp36" class="nf"><circle cx="733" cy="975" r="7"/></g>
<g id="cp37" class="nf"><circle cx="869" cy="959" r="7"/></g>
<g id="cp38" class="nf"><circle cx="823" cy="975" r="7"/></g>
<g id="cp39" class="nf"><circle cx="861" cy="981" r="7"/></g>
<g id="cp40" class="nf"><circle cx="881" cy="981" r="7"/></g>
<g id="cp41" class="nf"><circle cx="797" cy="987" r="7"/></g>
<g id="cp42" class="nf"><circle cx="844" cy="996" r="7"/></g>
<g id="cp43" class="nf"><circle cx="908" cy="997" r="7"/></g>
<g id="cp44" class="nf"><circle cx="744" cy="1002" r="7"/></g>
<g id="cp45" class="nf"><circle cx="793" cy="1008" r="7"/></g>
<g id="cp46" class="nf"><circle cx="835" cy="1017" r="7"/></g>
<g id="cp47" class="nf"><circle cx="769" cy="1021" r="7"/></g>
<g id="cp48" class="nf"><circle cx="887" cy="1026" r="7"/></g>
<g id="cp49" class="nf"><circle cx="804" cy="1036" r="7"/></g>
<g id="ct0" class="ne"><circle cx="728" cy="853" r="7"/></g>
<g id="ct1" class="ne"><circle cx="793" cy="887" r="7"/></g>
<g id="ct2" class="ne"><circle cx="877" cy="901" r="7"/></g>
<g id="ct3" class="ne"><circle cx="787" cy="947" r="7"/></g>
<g id="ct4" class="ne"><circle cx="827" cy="952" r="7"/></g>
<g id="ct5" class="ne"><circle cx="905" cy="939" r="7"/></g>
<g id="ct6" class="ne"><circle cx="936" cy="966" r="7"/></g>
<g id="ct7" class="ne"><circle cx="697" cy="975" r="7"/></g>
<g id="ct8" class="ne"><circle cx="871" cy="1011" r="7"/></g>
</g>
<g id="legend" class="lg">
<g id="lg-energy"><circle cx="1563" cy="52" r="17" fill="#10bf91"/><text x="1607" y="64">Energy</text></g>
<g id="lg-finance"><circle cx="1563" cy="108" r="17" fill="#dd88f5"/><text x="1607" y="120">Finance</text></g>
<g id="lg-utilities"><circle cx="1563" cy="163" r="17" fill="#fb8a28"/><text x="1607" y="176">Public Utilities</text></g>
<g id="lg-technology"><circle cx="1563" cy="217" r="17" fill="#4d463e"/><text x="1607" y="232">Technology</text></g>
</g>
</svg>
